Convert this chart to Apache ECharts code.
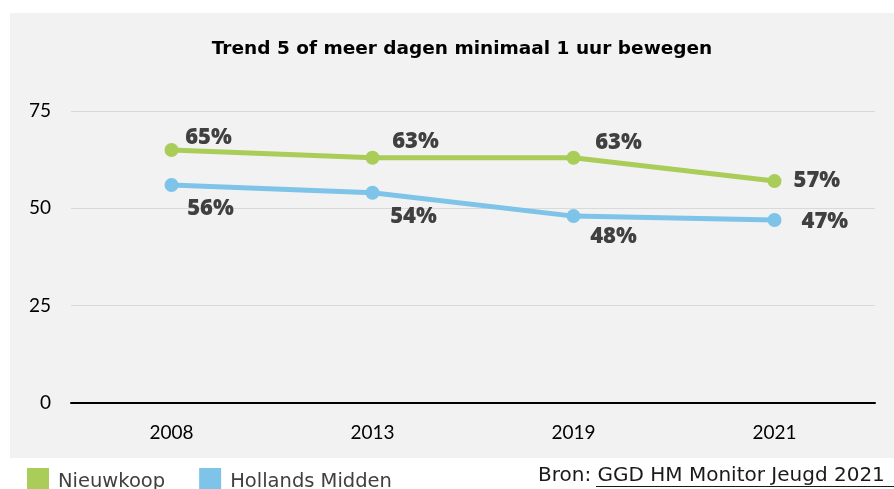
<!DOCTYPE html>
<html><head><meta charset="utf-8">
<script src="https://cdn.jsdelivr.net/npm/echarts@6/dist/echarts.min.js"></script>
<style>html,body{margin:0;padding:0;background:#fff}#c{width:894px;height:489px}</style>
</head><body><div id="c"></div>
<script>
const years = ['2008', '2013', '2019', '2021'];
const nieuwkoop = [65, 63, 63, 57];
const hollandsMidden = [56, 54, 48, 47];
const yTicks = [0, 25, 50, 75];

const chart = echarts.init(document.getElementById('c'), null, {renderer: 'canvas'});
const labelFont = {fontFamily: 'Open Sans', fontWeight: 800, fontSize: 22, color: '#404040'};
const nkOffsets = [[37, -12], [43, -16], [45, -15], [0, 0]];
const hmOffsets = [[39, 24], [41, 24], [40, 21], [0, 2]];

chart.setOption({
  animation: false,
  backgroundColor: '#ffffff',
  title: {
    text: 'Trend 5 of meer dagen minimaal 1 uur bewegen',
    left: 457, top: 35, textAlign: 'center',
    textStyle: {fontFamily: 'DejaVu Sans', fontWeight: 'bold', fontSize: 18.5, color: '#000'}
  },
  graphic: [
    {type: 'rect', z: -100, silent: true, shape: {x: 10, y: 13, width: 884, height: 445}, style: {fill: '#f2f2f2'}},
    {type: 'text', left: 538, top: 466, style: {text: 'Bron: GGD HM Monitor Jeugd 2021', font: '20px "DejaVu Sans"', fill: '#1a1a1a'}},
    {type: 'line', shape: {x1: 596, y1: 486.5, x2: 894, y2: 486.5}, style: {stroke: '#1a1a1a', lineWidth: 1}}
  ],
  legend: {
    left: 22, top: 463, itemGap: 34, itemWidth: 22, itemHeight: 28, icon: 'rect',
    textStyle: {fontFamily: 'DejaVu Sans', fontSize: 19.5, color: '#404040', padding: [1, 0, 0, 4]},
    data: ['Nieuwkoop', 'Hollands Midden']
  },
  grid: {left: 71, right: 19, top: 111, bottom: 86},
  xAxis: {
    type: 'category', data: years, boundaryGap: true,
    axisLine: {lineStyle: {color: '#000', width: 2}},
    axisTick: {show: false},
    axisLabel: {margin: 20, fontFamily: 'Lato', fontSize: 19, color: '#000'}
  },
  yAxis: {
    type: 'value', min: yTicks[0], max: yTicks[yTicks.length - 1], interval: 25,
    axisLine: {show: false}, axisTick: {show: false},
    splitLine: {lineStyle: {color: '#d9d9d9', width: 1}},
    axisLabel: {margin: 20, fontFamily: 'Lato', fontSize: 19, color: '#000'}
  },
  series: [
    {
      name: 'Nieuwkoop', type: 'line', color: '#a9cd58',
      data: nieuwkoop.map((v, i) => ({value: v, label: {offset: nkOffsets[i], position: i === 3 ? 'right' : 'inside'}})),
      symbol: 'circle', symbolSize: 14, lineStyle: {width: 5},
      label: Object.assign({show: true, formatter: '{c}%', distance: 12}, labelFont)
    },
    {
      name: 'Hollands Midden', type: 'line', color: '#7ec3e8',
      data: hollandsMidden.map((v, i) => ({value: v, label: {offset: hmOffsets[i], position: i === 3 ? 'right' : 'inside'}})),
      symbol: 'circle', symbolSize: 14, lineStyle: {width: 5},
      label: Object.assign({show: true, formatter: '{c}%', distance: 20}, labelFont)
    }
  ]
});
</script></body></html>
